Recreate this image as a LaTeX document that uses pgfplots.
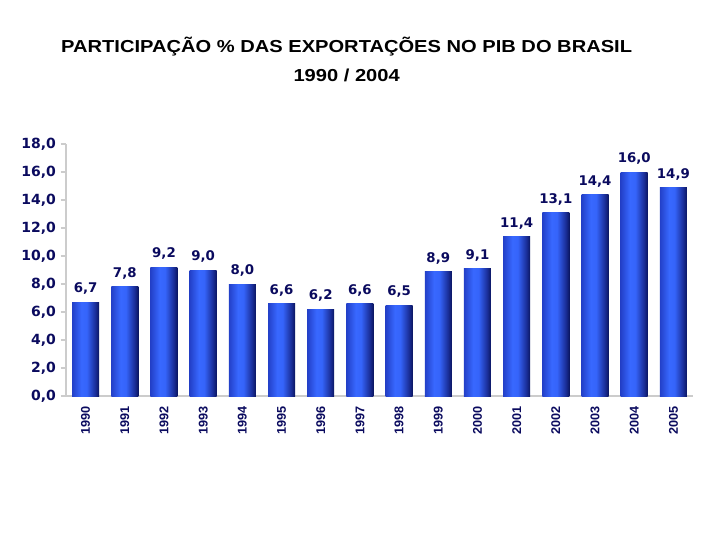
\documentclass[border=0pt]{standalone}
\usepackage{fontspec}
\setmainfont{Liberation Sans}
\newfontfamily\dejavu{DejaVu Sans}
\usepackage{pgfplots}
\pgfplotsset{compat=1.18}
\definecolor{navy}{HTML}{0A0A5E}
\pgfdeclarehorizontalshading{cylbar}{100bp}{color(0bp)=(rgb,255:red,35;green,64;blue,200);
  color(25bp)=(rgb,255:red,35;green,64;blue,200);
  color(42bp)=(rgb,255:red,56;green,104;blue,255);
  color(52bp)=(rgb,255:red,53;green,100;blue,250);
  color(68bp)=(rgb,255:red,26;green,46;blue,152);
  color(75bp)=(rgb,255:red,10;green,21;blue,96);
  color(100bp)=(rgb,255:red,10;green,21;blue,96)}
\pgfplotsset{cyl/.style={ybar, bar shift=0pt, bar width=20.25pt, draw=none,
  shade, shading=cylbar}}
\begin{document}
\begin{tikzpicture}
\path[use as bounding box] (0,0) rectangle (540pt,405pt);
\node[font=\fontsize{13}{15}\selectfont\bfseries, xscale=1.16] at (260pt,369.75pt) {PARTICIPAÇÃO \% DAS EXPORTAÇÕES NO PIB DO BRASIL};
\node[font=\fontsize{13}{15}\selectfont\bfseries, xscale=1.16] at (260pt,348.75pt) {1990 / 2004};
\begin{axis}[
  at={(49.5pt,108pt)}, anchor=south west,
  scale only axis, width=470.25pt, height=189pt,
  xmin=-0.5, xmax=15.5, ymin=0, ymax=18,
  axis x line*=bottom, axis y line*=left,
  axis line style={draw=gray!40, line width=0.8pt},
  ytick={0,2,...,18},
  xtick={0,...,15},
  xticklabels={1990,1991,1992,1993,1994,1995,1996,1997,1998,1999,2000,2001,2002,2003,2004,2005},
  x tick style={draw=none},
  y tick style={draw=gray!40, line width=0.8pt},
  tick align=outside, major tick length=4pt,
  xticklabel style={rotate=90, anchor=east, font=\fontsize{9.5}{11}\selectfont\bfseries, text=navy},
  yticklabel style={font=\dejavu\fontsize{10.5}{12}\selectfont\bfseries, text=navy},
  /pgf/number format/assume math mode=true,
  /pgf/number format/use comma, /pgf/number format/fixed,
  /pgf/number format/fixed zerofill, /pgf/number format/precision=1,
  yticklabel={\pgfmathprintnumber{\tick}},
  nodes near coords,
  nodes near coords style={font=\dejavu\fontsize{10}{12}\selectfont\bfseries, text=navy, yshift=2pt,
    /pgf/number format/use comma, /pgf/number format/fixed,
    /pgf/number format/fixed zerofill, /pgf/number format/precision=1},
]
\addplot[cyl] coordinates {(0,6.7)};
\addplot[cyl] coordinates {(1,7.8)};
\addplot[cyl] coordinates {(2,9.2)};
\addplot[cyl] coordinates {(3,9.0)};
\addplot[cyl] coordinates {(4,8.0)};
\addplot[cyl] coordinates {(5,6.6)};
\addplot[cyl] coordinates {(6,6.2)};
\addplot[cyl] coordinates {(7,6.6)};
\addplot[cyl] coordinates {(8,6.5)};
\addplot[cyl] coordinates {(9,8.9)};
\addplot[cyl] coordinates {(10,9.1)};
\addplot[cyl] coordinates {(11,11.4)};
\addplot[cyl] coordinates {(12,13.1)};
\addplot[cyl] coordinates {(13,14.4)};
\addplot[cyl] coordinates {(14,16.0)};
\addplot[cyl] coordinates {(15,14.9)};
\end{axis}
\end{tikzpicture}
\end{document}
